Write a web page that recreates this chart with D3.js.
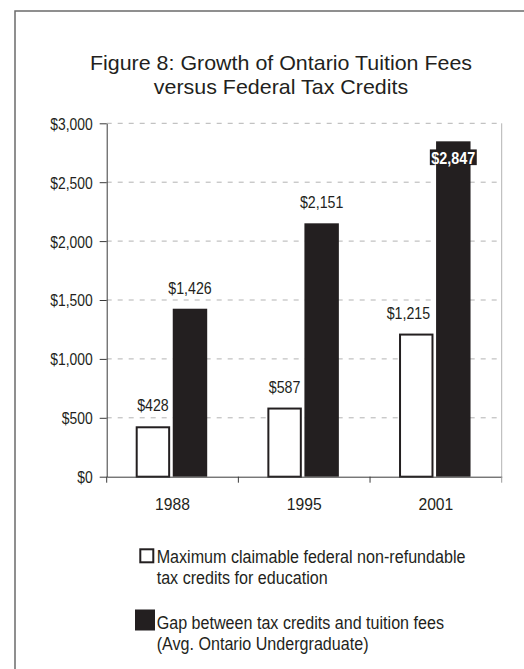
<!DOCTYPE html>
<html>
<head>
<meta charset="utf-8">
<script src="https://cdn.jsdelivr.net/npm/d3@7"></script>
<style>
  html, body { margin: 0; padding: 0; background: #fff; }
  svg { display: block; }
  text { font-family: "Liberation Sans", Arial, Helvetica, sans-serif; fill: #231f20; }
</style>
</head>
<body>
<svg id="chart" width="524" height="669"></svg>
<script>
// Chart data
const years = ["1988", "1995", "2001"];
const taxCredits = [428, 587, 1215];      // max claimable federal non-refundable credits
const tuitionGap = [1426, 2151, 2847];    // gap between credits and tuition fees
const yTicks = [0, 500, 1000, 1500, 2000, 2500, 3000];
const titleLines = ["Figure 8: Growth of Ontario Tuition Fees", "versus Federal Tax Credits"];
const legendCredits = ["Maximum claimable federal non-refundable", "tax credits for education"];
const legendGap = ["Gap between tax credits and tuition fees", "(Avg. Ontario Undergraduate)"];

const ink = "#231f20";
const svg = d3.select("#chart");

// Narrow the glyphs horizontally to get a condensed face
function squeeze(sel, k) {
  sel.each(function () {
    const w = this.getComputedTextLength();
    d3.select(this).attr("textLength", w * k).attr("lengthAdjust", "spacingAndGlyphs");
  });
}

// Outer frame (runs off the right and bottom edges)
svg.append("rect")
  .attr("x", 15).attr("y", 11).attr("width", 540).attr("height", 700)
  .attr("fill", "none").attr("stroke", "#6b6b6b").attr("stroke-width", 1.5);

// Title
const title = svg.append("g").selectAll("text").data(titleLines).join("text")
  .attr("x", 281).attr("y", (d, i) => 70 + i * 23.5)
  .attr("text-anchor", "middle").attr("font-size", 21)
  .text(d => d);
squeeze(title, 1.02);

// Plot area
const plot = { left: 106.7, right: 501.7, top: 123.3, bottom: 476.7 };

const x0 = d3.scaleBand().domain(years).range([plot.left, plot.right]).padding(0);
const y = d3.scaleLinear().domain([0, 3000]).range([plot.bottom, plot.top]);
const x1 = d3.scaleBand().domain(["credits", "gap"])
  .range([29, 100.5]).paddingInner(0.07).paddingOuter(0);

// Dashed gridlines
svg.append("g").selectAll("line").data(yTicks.filter(d => d > 0)).join("line")
  .attr("x1", plot.left).attr("x2", plot.right)
  .attr("y1", d => y(d)).attr("y2", d => y(d))
  .attr("stroke", "#b3b3b3").attr("stroke-width", 1).attr("stroke-dasharray", "5,6");

// Right border of the plot
svg.append("line")
  .attr("x1", plot.right).attr("x2", plot.right)
  .attr("y1", plot.top).attr("y2", plot.bottom)
  .attr("stroke", "#b3b3b3").attr("stroke-width", 1);

// Bars
const groups = svg.append("g").selectAll("g").data(years).join("g")
  .attr("transform", d => `translate(${x0(d)},0)`);

groups.append("rect")
  .attr("x", x1("credits") + 1)
  .attr("width", x1.bandwidth() - 2)
  .attr("y", (d, i) => y(taxCredits[i]) + 1)
  .attr("height", (d, i) => y(0) - y(taxCredits[i]) - 1)
  .attr("fill", "#fff").attr("stroke", ink).attr("stroke-width", 2);

groups.append("rect")
  .attr("x", x1("gap"))
  .attr("width", x1.bandwidth())
  .attr("y", (d, i) => y(tuitionGap[i]))
  .attr("height", (d, i) => y(0) - y(tuitionGap[i]))
  .attr("fill", ink);

// Value labels
const labelRows = [];
years.forEach((yr, i) => {
  labelRows.push({ yr, key: "credits", v: taxCredits[i] });
  labelRows.push({ yr, key: "gap", v: tuitionGap[i] });
});
const fmt = d => "$" + d3.format(",")(d);
const labelFont = 16.5;
const labelLayer = svg.append("g");

labelRows.forEach(r => {
  const cx = x0(r.yr) + x1(r.key) + x1.bandwidth() / 2;
  const top = y(r.v);
  const inside = top - 21 < plot.top + 10;
  if (inside) {
    // label sits inside the bar top on a dark plate
    const cy = top + 16;
    const plate = labelLayer.append("rect").attr("fill", ink);
    const t = labelLayer.append("text")
      .attr("x", cx).attr("y", cy + 6.3)
      .attr("text-anchor", "middle").attr("font-size", labelFont).attr("font-weight", "bold")
      .style("fill", "#fff").text(fmt(r.v));
    squeeze(t, 0.87);
    const w = t.node().getBBox().width + 3;
    plate.attr("x", cx - w / 2).attr("y", cy - 7.9).attr("width", w).attr("height", 15.7);
  } else {
    const t = labelLayer.append("text")
      .attr("x", cx).attr("y", top - 15)
      .attr("text-anchor", "middle").attr("font-size", labelFont)
      .text(fmt(r.v));
    squeeze(t, 0.86);
    // a credits label that would run into the taller neighbouring bar moves left
    if (r.key === "credits") {
      const w = t.node().getBBox().width;
      const barLeft = x0(r.yr) + x1("gap");
      if (cx + w / 2 > barLeft) t.attr("x", barLeft - 6 - w / 2);
    }
  }
});

// Y axis
const yAxis = svg.append("g")
  .attr("transform", `translate(${plot.left},0)`)
  .call(d3.axisLeft(y).tickValues(yTicks).tickFormat(fmt).tickSize(7).tickSizeOuter(0).tickPadding(7));
yAxis.select(".domain").attr("stroke", "#3a3a3a");
yAxis.selectAll(".tick line").attr("stroke", "#3a3a3a");
yAxis.selectAll(".tick text")
  .attr("font-size", labelFont).attr("font-family", null).attr("dy", "0.36em")
  .style("fill", ink);
squeeze(yAxis.selectAll(".tick text"), 0.84);

// X axis: category labels centred, tick marks at category boundaries
const xAxis = svg.append("g")
  .attr("transform", `translate(0,${plot.bottom})`)
  .call(d3.axisBottom(x0).tickSize(0).tickSizeOuter(0).tickPadding(22));
xAxis.select(".domain").attr("stroke", "#3a3a3a");
xAxis.selectAll(".tick text")
  .attr("font-size", labelFont).attr("font-family", null).attr("dy", "0.71em")
  .attr("y", 22).style("fill", ink);
squeeze(xAxis.selectAll(".tick text"), 0.95);

const bounds = years.map(d => x0(d)).concat([x0(years[years.length - 1]) + x0.bandwidth()]);
xAxis.append("g").selectAll("line").data(bounds).join("line")
  .attr("x1", d => d).attr("x2", d => d).attr("y1", 0).attr("y2", 6)
  .attr("stroke", (d, i) => i === bounds.length - 1 ? "#9a9a9a" : "#3a3a3a");

// Legend
const legend = svg.append("g");
legend.append("rect")
  .attr("x", 140.3).attr("y", 549.3).attr("width", 13).attr("height", 13)
  .attr("fill", "#fff").attr("stroke", ink).attr("stroke-width", 2);
legend.append("rect")
  .attr("x", 135).attr("y", 609.5).attr("width", 20).attr("height", 21)
  .attr("fill", ink);

const legFont = 17.5;
const leg1 = legend.append("g").selectAll("text").data(legendCredits).join("text")
  .attr("x", 156.7).attr("y", (d, i) => 563 + i * 20.7)
  .attr("font-size", legFont).text(d => d);
const leg2 = legend.append("g").selectAll("text").data(legendGap).join("text")
  .attr("x", 156.7).attr("y", (d, i) => 629 + i * 20.7)
  .attr("font-size", legFont).text(d => d);
squeeze(leg1, 0.92);
squeeze(leg2, 0.92);
</script>
</body>
</html>
